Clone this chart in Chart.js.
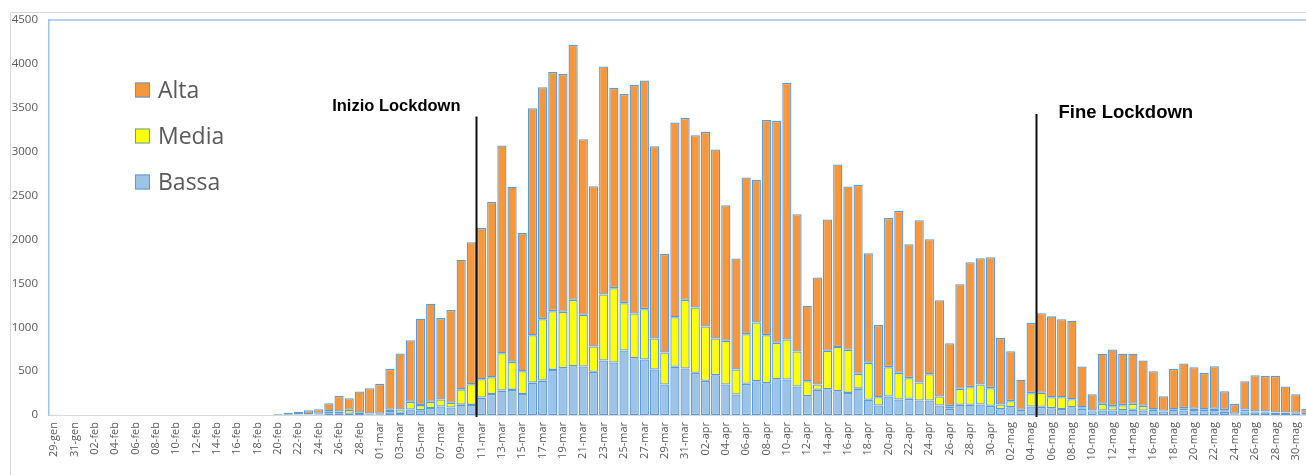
<!DOCTYPE html>
<html lang="it">
<head>
<meta charset="utf-8">
<title>Casi giornalieri per intensità</title>
<script src="https://cdn.jsdelivr.net/npm/chart.js@4.4.1/dist/chart.umd.min.js"></script>
<style>
  html, body { margin: 0; padding: 0; background: #fff; overflow: hidden; width: 1306px; height: 475px; }
  #wrap { position: relative; width: 1311px; height: 475px; }
  canvas { display: block; }
</style>
</head>
<body>
<div id="wrap"><canvas id="chart" width="1311" height="475"></canvas></div>
<script>
// Giorni dal 29 gennaio al 31 maggio
const categories = [
  '29-gen','30-gen','31-gen',
  '01-feb','02-feb','03-feb','04-feb','05-feb','06-feb','07-feb','08-feb','09-feb','10-feb',
  '11-feb','12-feb','13-feb','14-feb','15-feb','16-feb','17-feb','18-feb','19-feb','20-feb',
  '21-feb','22-feb','23-feb','24-feb','25-feb','26-feb','27-feb','28-feb','29-feb',
  '01-mar','02-mar','03-mar','04-mar','05-mar','06-mar','07-mar','08-mar','09-mar','10-mar',
  '11-mar','12-mar','13-mar','14-mar','15-mar','16-mar','17-mar','18-mar','19-mar','20-mar',
  '21-mar','22-mar','23-mar','24-mar','25-mar','26-mar','27-mar','28-mar','29-mar','30-mar','31-mar',
  '01-apr','02-apr','03-apr','04-apr','05-apr','06-apr','07-apr','08-apr','09-apr','10-apr',
  '11-apr','12-apr','13-apr','14-apr','15-apr','16-apr','17-apr','18-apr','19-apr','20-apr',
  '21-apr','22-apr','23-apr','24-apr','25-apr','26-apr','27-apr','28-apr','29-apr','30-apr',
  '01-mag','02-mag','03-mag','04-mag','05-mag','06-mag','07-mag','08-mag','09-mag','10-mag',
  '11-mag','12-mag','13-mag','14-mag','15-mag','16-mag','17-mag','18-mag','19-mag','20-mag',
  '21-mag','22-mag','23-mag','24-mag','25-mag','26-mag','27-mag','28-mag','29-mag','30-mag','31-mag'
];

// Casi per intensità (stessa sequenza dei giorni)
const bassa = [
  2, 0, 0,
  0, 0, 0, 0, 0, 0, 0, 0, 0, 0,
  0, 0, 0, 0, 0, 0, 0, 0, 0, 2,
  2, 3, 4, 5, 15, 15, 15, 12, 8,
  8, 32, 25, 63, 53, 80, 97, 85, 118, 115,
  198, 240, 278, 286, 240, 369, 392, 514, 534, 556,
  552, 492, 621, 598, 735, 647, 632, 518, 347, 549, 530,
  480, 389, 454, 347, 234, 355, 385, 363, 408, 404,
  325, 215, 287, 294, 270, 252, 300, 173, 108, 211,
  177, 184, 165, 165, 108, 70, 116, 116, 120, 104,
  66, 89, 44, 97, 93, 78, 68, 89, 70, 44,
  51, 51, 55, 59, 51, 44, 40, 44, 51, 44,
  44, 44, 36, 9, 40, 32, 32, 25, 25, 21, 8
];
const media = [
  0, 0, 0,
  0, 0, 0, 0, 0, 0, 0, 0, 0, 0,
  0, 0, 0, 0, 0, 0, 0, 0, 0, 0,
  2, 3, 4, 8, 28, 25, 45, 15, 8,
  6, 28, 38, 87, 60, 70, 80, 55, 174, 235,
  210, 190, 426, 322, 259, 540, 700, 669, 641, 756,
  589, 288, 752, 847, 539, 509, 574, 353, 365, 565, 782,
  745, 619, 417, 498, 284, 566, 669, 546, 414, 456,
  398, 170, 60, 437, 504, 492, 169, 421, 95, 334,
  303, 236, 205, 300, 103, 31, 182, 201, 227, 202,
  54, 69, 15, 152, 160, 125, 135, 90, 19, 7,
  76, 50, 57, 68, 53, 22, 7, 22, 27, 26,
  22, 26, 19, 4, 23, 8, 8, 3, 3, 4, 2
];
const alta = [
  0, 0, 0,
  0, 0, 0, 0, 0, 0, 0, 0, 0, 0,
  0, 0, 0, 0, 0, 0, 0, 0, 0, 8,
  21, 30, 47, 53, 92, 178, 132, 241, 290,
  341, 466, 637, 703, 983, 1117, 927, 1056, 1476, 1619,
  1724, 1998, 2366, 1992, 1573, 2586, 2643, 2726, 2710, 2903,
  2001, 1827, 2597, 2282, 2384, 2605, 2604, 2191, 1124, 2218, 2073,
  1963, 2218, 2153, 1545, 1265, 1784, 1625, 2453, 2529, 2924,
  1565, 859, 1219, 1496, 2079, 1859, 2153, 1249, 824, 1701,
  1846, 1526, 1849, 1538, 1097, 717, 1192, 1424, 1439, 1492,
  759, 569, 342, 801, 907, 921, 889, 895, 463, 186,
  570, 645, 585, 570, 517, 433, 168, 460, 509, 475,
  414, 486, 216, 114, 322, 414, 406, 418, 297, 212, 60
];

// Asse verticale
const yMax = 4500;
const yStep = 500;

// Date di riferimento del lockdown
const lockdownMarks = [
  { text: 'Inizio Lockdown', day: '11-mar', lineTop: 3400, textAt: 3510, side: 'left',  size: 16.5 },
  { text: 'Fine Lockdown',   day: '05-mag', lineTop: 3430, textAt: 3446, side: 'right', size: 18.5 }
];

const EDGE = '#5B9BD5';
const TEXT = '#595959';

const frame = {
  id: 'frame',
  beforeDraw(chart) {
    const { ctx, width, height } = chart;
    ctx.save();
    ctx.fillStyle = '#ffffff';
    ctx.fillRect(0, 0, width, height);
    ctx.strokeStyle = '#d9d9d9';
    ctx.lineWidth = 1;
    ctx.beginPath();
    ctx.moveTo(10.5, height);
    ctx.lineTo(10.5, 12.5);
    ctx.lineTo(width, 12.5);
    ctx.stroke();
    ctx.restore();
  },
  afterDatasetsDraw(chart) {
    const { ctx, chartArea: a } = chart;
    ctx.save();
    ctx.strokeStyle = '#9DC3E6';
    ctx.lineWidth = 1.5;
    ctx.beginPath();
    ctx.moveTo(a.left, a.top);
    ctx.lineTo(a.right, a.top);
    ctx.stroke();
    ctx.restore();
  }
};

const lockdown = {
  id: 'lockdown',
  afterDatasetsDraw(chart) {
    const { ctx, scales: { x, y } } = chart;
    ctx.save();
    lockdownMarks.forEach(m => {
      const idx = categories.indexOf(m.day);
      const px = Math.round(x.getPixelForValue(idx - 0.5)) + 0.5;
      ctx.strokeStyle = '#111';
      ctx.lineWidth = 2;
      ctx.beginPath();
      ctx.moveTo(px, y.getPixelForValue(m.lineTop));
      ctx.lineTo(px, y.getPixelForValue(0) + 2);
      ctx.stroke();
      ctx.fillStyle = '#000';
      ctx.font = 'bold ' + m.size + 'px "Liberation Sans", Arial, sans-serif';
      ctx.textBaseline = 'middle';
      if (m.side === 'left') {
        ctx.textAlign = 'right';
        ctx.fillText(m.text, px - 16, y.getPixelForValue(m.textAt));
      } else {
        ctx.textAlign = 'left';
        ctx.fillText(m.text, px + 22, y.getPixelForValue(m.textAt));
      }
    });
    ctx.restore();
  }
};

const sideLegend = {
  id: 'sideLegend',
  afterDatasetsDraw(chart) {
    const { ctx, chartArea: a } = chart;
    const items = chart.data.datasets.slice().reverse();
    ctx.save();
    ctx.font = '23px "Open Sans", sans-serif';
    ctx.textBaseline = 'middle';
    ctx.textAlign = 'left';
    items.forEach((ds, i) => {
      const cy = a.top + 70 + i * 46;
      const sx = a.left + 86;
      ctx.fillStyle = ds.backgroundColor;
      ctx.fillRect(sx, cy - 7.5, 15, 15);
      ctx.strokeStyle = EDGE;
      ctx.lineWidth = 1;
      ctx.strokeRect(sx + 0.5, cy - 7, 14, 14);
      ctx.fillStyle = TEXT;
      ctx.fillText(ds.label, sx + 23, cy + 1);
    });
    ctx.restore();
  }
};

const barStyle = {
  borderColor: EDGE,
  borderWidth: 1.3,
  borderSkipped: false,
  barPercentage: 0.9,
  categoryPercentage: 1.0
};

new Chart(document.getElementById('chart'), {
  type: 'bar',
  data: {
    labels: categories,
    datasets: [
      Object.assign({ label: 'Bassa', data: bassa, backgroundColor: '#9DC3E6' }, barStyle),
      Object.assign({ label: 'Media', data: media, backgroundColor: '#FFFF00' }, barStyle),
      Object.assign({ label: 'Alta',  data: alta,  backgroundColor: '#F8963A' }, barStyle)
    ]
  },
  options: {
    responsive: false,
    animation: false,
    events: [],
    layout: { padding: { top: 20, left: 0, right: 0, bottom: 0 } },
    plugins: {
      legend: { display: false },
      tooltip: { enabled: false }
    },
    scales: {
      x: {
        stacked: true,
        grid: { display: false, drawTicks: false },
        border: { display: true, color: '#d9d9d9', width: 1 },
        ticks: {
          autoSkip: false,
          maxRotation: 90,
          minRotation: 90,
          padding: 7,
          color: TEXT,
          font: { family: '"Open Sans", sans-serif', size: 11 },
          callback: (v, i) => (i % 2 === 0 ? categories[i] : '')
        },
        afterFit: s => { s.height = 60; s.paddingLeft = 0; s.paddingRight = 0; }
      },
      y: {
        stacked: true,
        min: 0,
        max: yMax,
        grid: { display: false, drawTicks: false },
        border: { display: true, color: '#9DC3E6', width: 1.5 },
        ticks: {
          stepSize: yStep,
          padding: 11,
          color: TEXT,
          font: { family: '"Open Sans", sans-serif', size: 11.5 },
          callback: v => String(v)
        },
        afterFit: s => { s.width = 49; }
      }
    }
  },
  plugins: [frame, lockdown, sideLegend]
});
</script>
</body>
</html>
